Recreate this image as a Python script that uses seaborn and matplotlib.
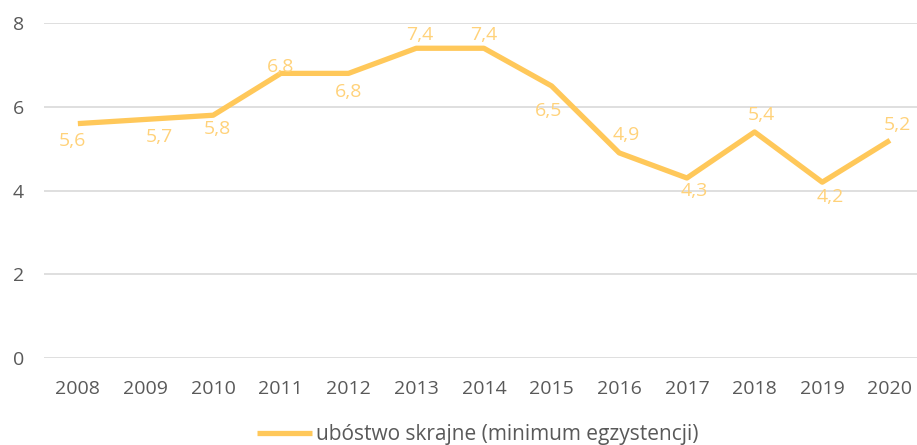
import matplotlib
matplotlib.use('Agg')
import matplotlib.pyplot as plt
import seaborn as sns
import pandas as pd

years = ['2008', '2009', '2010', '2011', '2012', '2013', '2014',
         '2015', '2016', '2017', '2018', '2019', '2020']
values = [5.6, 5.7, 5.8, 6.8, 6.8, 7.4, 7.4, 6.5, 4.9, 4.3, 5.4, 4.2, 5.2]
series_name = 'ubóstwo skrajne (minimum egzystencji)'
y_ticks = [0, 2, 4, 6, 8]

# label offsets in pixels (dx right, dy down)
label_offsets = [(-5, 17), (14, 18), (4, 14), (0, -6), (0, 19), (4, -13), (0, -13),
                 (-3, 25), (7, -18), (7, 13), (7, -17), (8, 15), (8, -15)]

df = pd.DataFrame({'rok': years, 'wartosc': values})

sns.set_theme(style='white')
plt.rcParams['font.family'] = ['Open Sans', 'DejaVu Sans']

line_color = '#FFC85A'
label_color = '#FFD27A'
text_gray = '#595959'

fig = plt.figure(figsize=(9.17, 4.45), dpi=100)
ax = fig.add_axes([0.048, 0.1955, 0.952, 0.7525])

sns.lineplot(data=df, x='rok', y='wartosc', ax=ax, color=line_color, lw=3.8,
             sort=False, label=series_name, solid_capstyle='butt', legend=False)

for i, (v, (dx, dy)) in enumerate(zip(values, label_offsets)):
    ax.annotate(f'{v:.1f}'.replace('.', ','), (i, v),
                xytext=(dx * 0.72, -dy * 0.72), textcoords='offset points',
                ha='center', va='center', color=label_color, fontsize=14)

ax.set_ylim(0, 8)
ax.set_xlim(-0.5, 12.4)
ax.set_yticks(y_ticks)
ax.yaxis.grid(True, color='#D9D9D9', lw=1.2)
ax.set_axisbelow(True)
for s in ax.spines.values():
    s.set_visible(False)
ax.tick_params(axis='both', length=0, labelsize=14, colors=text_gray)
ax.tick_params(axis='x', pad=16)
ax.tick_params(axis='y', pad=14.4)
ax.set_xlabel('')
ax.set_ylabel('')

leg = fig.legend(handles=ax.get_lines()[:1], labels=[series_name], loc='center',
                 bbox_to_anchor=(0.521, 0.024), bbox_transform=fig.transFigure,
                 frameon=False, fontsize=15, handlelength=2.64, handletextpad=0.15)
for t in leg.get_texts():
    t.set_color(text_gray)

fig.savefig('out.png', dpi=100)
